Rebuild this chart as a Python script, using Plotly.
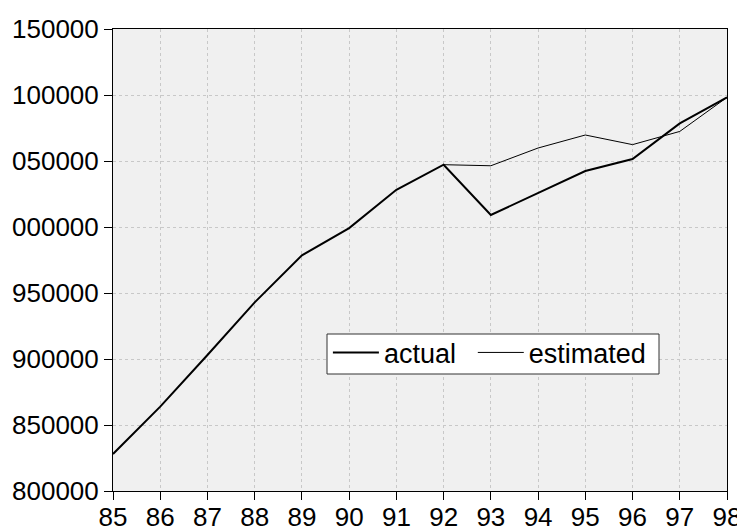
import plotly.graph_objects as go

years = [85, 86, 87, 88, 89, 90, 91, 92, 93, 94, 95, 96, 97, 98]
year_labels = ["85", "86", "87", "88", "89", "90", "91", "92", "93", "94", "95", "96", "97", "98"]
actual = [828000, 863900, 903000, 942900, 978500, 999200, 1028200, 1047200,
          1009100, 1025500, 1042400, 1051500, 1078500, 1098200]
est_years = [92, 93, 94, 95, 96, 97, 98]
estimated = [1047200, 1046400, 1059850, 1069700, 1062400, 1072400, 1098200]

y_tickvals = [800000, 850000, 900000, 950000, 1000000, 1050000, 1100000, 1150000]
y_ticktext = ["800000", "850000", "900000", "950000", "000000", "050000", "100000", "150000"]

fig = go.Figure()
fig.add_trace(go.Scatter(x=years, y=actual, mode="lines", name="actual",
                         line=dict(color="black", width=2), legend="legend"))
fig.add_trace(go.Scatter(x=est_years, y=estimated, mode="lines", name="estimated",
                         line=dict(color="black", width=1), legend="legend2"))

font = dict(family="Liberation Sans, Arial, sans-serif", size=26, color="black")
legend_font = dict(family="Liberation Sans, Arial, sans-serif", size=27, color="black")

axis_common = dict(showgrid=True, gridcolor="#c8c8c8", griddash="3px,3px", gridwidth=1,
                   showline=True, linecolor="black", linewidth=1, mirror=True,
                   ticks="outside", ticklen=8, tickcolor="black", zeroline=False,
                   tickfont=font, automargin=False)

legend_common = dict(orientation="h", yanchor="top", xanchor="left",
                     bgcolor="rgba(0,0,0,0)", borderwidth=0,
                     font=legend_font, itemwidth=46)

fig.update_layout(
    width=737, height=523,
    margin=dict(l=105, r=18, t=21, b=40),
    paper_bgcolor="white",
    plot_bgcolor="#f0f0f0",
    font=font,
    showlegend=True,
    legend=dict(x=0.350, y=0.352, **legend_common),
    legend2=dict(x=0.586, y=0.352, **legend_common),
    shapes=[dict(type="rect", xref="paper", yref="paper",
                 x0=(327 - 113) / 614, x1=(659 - 113) / 614,
                 y0=(491 - 374) / 462, y1=(491 - 334) / 462,
                 fillcolor="white", line=dict(color="#333333", width=1),
                 layer="above")],
    xaxis=dict(range=[85, 98], tickvals=years, ticktext=year_labels,
               ticklabelstandoff=-5, **axis_common),
    yaxis=dict(range=[800000, 1150000], tickvals=y_tickvals, ticktext=y_ticktext,
               **axis_common),
)

fig.write_html("out.html")
